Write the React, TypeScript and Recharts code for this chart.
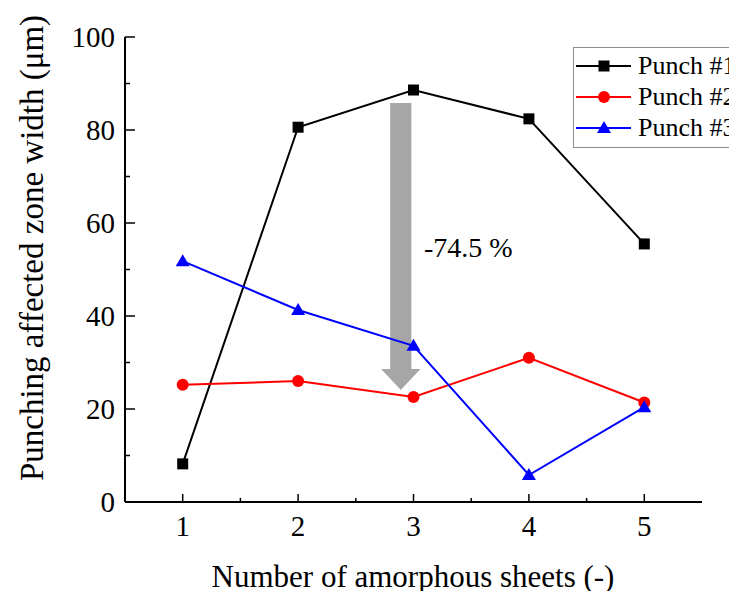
import { Legend, Line, LineChart, ReferenceArea, ReferenceDot, XAxis, YAxis } from "recharts";

const sheets = [1, 2, 3, 4, 5];
const punch1 = [8.2, 80.6, 88.6, 82.4, 55.5];
const punch2 = [25.2, 26.0, 22.6, 31.0, 21.4];
const punch3 = [51.8, 41.3, 33.6, 5.8, 20.4];

const xTicks = [1, 1.5, 2, 2.5, 3, 3.5, 4, 4.5, 5];
const yTicks = [0, 10, 20, 30, 40, 50, 60, 70, 80, 90, 100];

// arrow: x range of the head, y from tip to tail
const arrowX = [2.72, 3.06];
const arrowY = [24.1, 85.8];
const arrowLabel = "-74.5 %";
const arrowLabelAt = { x: 3.09, y: 52.7 };

const series = [
  { key: "p1", name: "Punch #1", color: "#000000", shape: "square" },
  { key: "p2", name: "Punch #2", color: "#ff0000", shape: "circle" },
  { key: "p3", name: "Punch #3", color: "#0000ff", shape: "triangle" },
];

const data = sheets.map((s, i) => ({ s, p1: punch1[i], p2: punch2[i], p3: punch3[i] }));

const FONT = '"Liberation Serif", "Times New Roman", serif';

function Marker({ cx, cy, shape, color }: { cx: number; cy: number; shape: string; color: string }) {
  if (shape === "square") return <rect x={cx - 5.5} y={cy - 5.5} width={11} height={11} fill={color} />;
  if (shape === "circle") return <circle cx={cx} cy={cy} r={6} fill={color} />;
  return <polygon points={`${cx},${cy - 7} ${cx - 7},${cy + 5} ${cx + 7},${cy + 5}`} fill={color} />;
}

const isMajorX = (v: number) => Number.isInteger(v);
const isMajorY = (v: number) => v % 20 === 0;

function BottomTick(props: any) {
  const { x, y, payload } = props;
  const major = isMajorX(payload.value);
  return (
    <g>
      <line x1={x} x2={x} y1={y} y2={y - (major ? 8 : 4)} stroke="#000" strokeWidth={1.5} />
      {major && (
        <text x={x} y={y + 34} textAnchor="middle" fontFamily={FONT} fontSize={29} fill="#000">
          {payload.value}
        </text>
      )}
    </g>
  );
}

function TopTick(props: any) {
  const { x, y, payload } = props;
  const major = isMajorX(payload.value);
  return <line x1={x} x2={x} y1={y} y2={y + (major ? 8 : 4)} stroke="#000" strokeWidth={1.5} />;
}

function LeftTick(props: any) {
  const { x, y, payload } = props;
  const major = isMajorY(payload.value);
  return (
    <g>
      <line x1={x} x2={x + (major ? 10 : 5)} y1={y} y2={y} stroke="#000" strokeWidth={1.5} />
      {major && (
        <text x={x - 10} y={y + 10} textAnchor="end" fontFamily={FONT} fontSize={29} fill="#000">
          {payload.value}
        </text>
      )}
    </g>
  );
}

function RightTick(props: any) {
  const { x, y, payload } = props;
  const major = isMajorY(payload.value);
  return <line x1={x} x2={x - (major ? 10 : 5)} y1={y} y2={y} stroke="#000" strokeWidth={1.5} />;
}

function Arrow(props: any) {
  const { x, y, width, height } = props;
  const cx = x + width / 2;
  const shaft = width * 0.54;
  const head = 21;
  const tip = y + height;
  const pts = [
    [cx - shaft / 2, y],
    [cx + shaft / 2, y],
    [cx + shaft / 2, tip - head],
    [x + width, tip - head],
    [cx, tip],
    [x, tip - head],
    [cx - shaft / 2, tip - head],
  ]
    .map((p) => p.join(","))
    .join(" ");
  return <polygon points={pts} fill="#a6a6a6" />;
}

function renderLegend() {
  return (
    <div
      style={{
        border: "1px solid #8c8c8c",
        background: "#fff",
        padding: "2px 0 4px 1px",
        width: 220,
        fontFamily: FONT,
        fontSize: 26,
        color: "#000",
      }}
    >
      {series.map((s) => (
        <div key={s.key} style={{ display: "flex", alignItems: "center", height: 31 }}>
          <svg width={58} height={20} style={{ flex: "none" }}>
            <line x1={1} x2={56} y1={10} y2={10} stroke={s.color} strokeWidth={2} />
            <Marker cx={29} cy={10} shape={s.shape} color={s.color} />
          </svg>
          <span style={{ marginLeft: 5, lineHeight: "31px" }}>{s.name}</span>
        </div>
      ))}
    </div>
  );
}

export default function App() {
  return (
    <div style={{ position: "absolute", left: 0, top: 0, width: 729, height: 591, overflow: "hidden", background: "#fff" }}>
      <LineChart width={729} height={591} data={data} margin={{ top: 37, right: 27, bottom: 39, left: 65 }}>
        <XAxis
          xAxisId="b"
          dataKey="s"
          type="number"
          domain={[0.5, 5.5]}
          ticks={xTicks}
          interval={0}
          height={50}
          tickSize={0}
          tickMargin={0}
          tickLine={false}
          tick={BottomTick}
          axisLine={{ stroke: "#000", strokeWidth: 2 }}
        />
        <XAxis
          xAxisId="t"
          orientation="top"
          dataKey="s"
          type="number"
          domain={[0.5, 5.5]}
          ticks={xTicks}
          interval={0}
          height={0}
          tickSize={0}
          tickMargin={0}
          tickLine={false}
          tick={TopTick}
          axisLine={{ stroke: "#000", strokeWidth: 2 }}
        />
        <YAxis
          yAxisId="l"
          type="number"
          domain={[0, 100]}
          ticks={yTicks}
          interval={0}
          width={60}
          tickSize={0}
          tickMargin={0}
          tickLine={false}
          tick={LeftTick}
          axisLine={{ stroke: "#000", strokeWidth: 2 }}
        />
        <YAxis
          yAxisId="r"
          orientation="right"
          type="number"
          domain={[0, 100]}
          ticks={yTicks}
          interval={0}
          width={0}
          tickSize={0}
          tickMargin={0}
          tickLine={false}
          tick={RightTick}
          axisLine={{ stroke: "#000", strokeWidth: 2 }}
        />
        <ReferenceArea
          xAxisId="b"
          yAxisId="l"
          x1={arrowX[0]}
          x2={arrowX[1]}
          y1={arrowY[0]}
          y2={arrowY[1]}
          shape={Arrow}
        />
        {series.map((s) => (
          <Line
            key={s.key}
            xAxisId="b"
            yAxisId="l"
            dataKey={s.key}
            name={s.name}
            stroke={s.color}
            strokeWidth={2}
            isAnimationActive={false}
            dot={(p: any) => <Marker key={`${s.key}-${p.index}`} cx={p.cx} cy={p.cy} shape={s.shape} color={s.color} />}
            activeDot={false}
          />
        ))}
        <ReferenceDot
          xAxisId="b"
          yAxisId="l"
          x={arrowLabelAt.x}
          y={arrowLabelAt.y}
          r={0}
          shape={(p: any) => (
            <text x={p.cx} y={p.cy} fontFamily={FONT} fontSize={28} fill="#000">
              {arrowLabel}
            </text>
          )}
        />
        <Legend
          layout="vertical"
          align="center"
          verticalAlign="middle"
          content={renderLegend}
          wrapperStyle={{ left: 573, top: 47, width: 222 }}
        />
      </LineChart>
      <svg style={{ position: "absolute", left: 0, top: 0, pointerEvents: "none" }} width={729} height={591}>
        <text
          transform="translate(43,248) rotate(-90)"
          textAnchor="middle"
          fontFamily={FONT}
          fontSize={33}
          fill="#000"
        >
          Punching affected zone width (μm)
        </text>
        <text x={413} y={587} textAnchor="middle" fontFamily={FONT} fontSize={31} fill="#000">
          Number of amorphous sheets (-)
        </text>
      </svg>
    </div>
  );
}
